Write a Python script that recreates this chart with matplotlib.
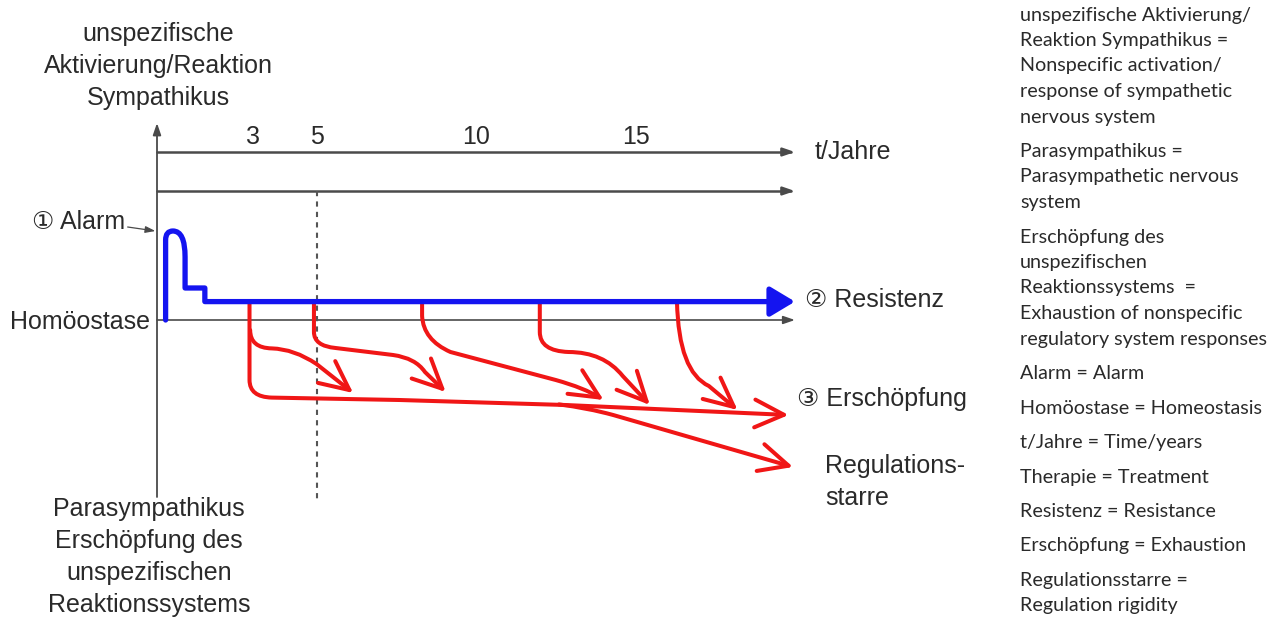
import matplotlib
matplotlib.use("Agg")
import matplotlib.pyplot as plt
from matplotlib.path import Path
from matplotlib.patches import FancyArrowPatch

# Zeitachse in Jahren, Niveau 0 = Homöostase
tick_years = [3, 5, 10, 15]
tick_labels = ["3", "5", "10", "15"]
t_end = 20.0
therapy_year = 5

level_t_axis = 8.4
level_second = 6.45
level_axis_top = 9.85
level_axis_bottom = -8.85
level_dash_bottom = -9.0

# Kurven: ("M"/"L", x, y) oder ("Q", cx, cy, x, y)
blue_curve = [("M", 0.27, 0.0), ("L", 0.27, 4.0), ("Q", 0.27, 4.45, 0.5, 4.45),
              ("Q", 0.88, 4.45, 0.88, 3.15), ("L", 0.88, 1.6), ("L", 1.5, 1.6),
              ("L", 1.5, 0.92), ("L", 20.0, 0.92)]

red_main = [("M", 2.9, 0.92), ("L", 2.9, -3.0), ("Q", 2.9, -3.85, 3.6, -3.88),
            ("L", 7.6, -4.0), ("L", 12.8, -4.25), ("L", 19.8, -4.75)]
red_rigid = [("M", 12.6, -4.22), ("Q", 13.5, -4.4, 14.3, -4.75), ("L", 19.94, -7.35)]
red_b1 = [("M", 2.92, -0.5), ("Q", 2.92, -1.4, 3.6, -1.42),
          ("Q", 4.3, -1.45, 5.0, -2.2), ("L", 6.15, -3.65)]
red_b2 = [("M", 4.92, 0.92), ("L", 4.92, -0.6), ("Q", 4.92, -1.3, 5.6, -1.4),
          ("L", 7.4, -1.75), ("Q", 8.1, -1.9, 8.4, -2.6), ("L", 9.05, -3.6)]
red_b3 = [("M", 8.31, 0.92), ("L", 8.31, 0.2), ("Q", 8.35, -1.0, 9.2, -1.6),
          ("L", 12.5, -3.0), ("Q", 13.4, -3.4, 14.0, -4.0)]
red_b4 = [("M", 12.0, 0.92), ("L", 12.0, -0.6), ("Q", 12.0, -1.55, 12.9, -1.6),
          ("Q", 14.0, -1.6, 14.6, -2.8), ("L", 15.45, -4.25)]
red_b5 = [("M", 16.3, 0.92), ("Q", 16.35, -2.6, 17.3, -3.3), ("L", 18.2, -4.5)]

alarm_text_pos = (-1.0, 4.9)
alarm_arrow = [("M", -0.92, 4.65), ("L", -0.05, 4.45)]

legend_paragraphs = [
    ["unspezifische Aktivierung/", "Reaktion Sympathikus =", "Nonspecific activation/",
     "response of sympathetic", "nervous system"],
    ["Parasympathikus =", "Parasympathetic nervous", "system"],
    ["Erschöpfung des", "unspezifischen", "Reaktionssystems  =",
     "Exhaustion of nonspecific", "regulatory system responses"],
    ["Alarm = Alarm"],
    ["Homöostase = Homeostasis"],
    ["t/Jahre = Time/years"],
    ["Therapie = Treatment"],
    ["Resistenz = Resistance"],
    ["Erschöpfung = Exhaustion"],
    ["Regulationsstarre =", "Regulation rigidity"],
]

plt.rcParams['font.family'] = ['Liberation Sans', 'DejaVu Sans']

W, H = 1269, 617
X0_PX, PX_PER_YEAR = 157, 31.9
Y0_PX, PX_PER_LEVEL = 320, 20.0

fig = plt.figure(figsize=(W / 100, H / 100), dpi=100)
ax = fig.add_axes([0, 0, 1, 1])
ax.set_xlim(-X0_PX / PX_PER_YEAR, (W - X0_PX) / PX_PER_YEAR)
ax.set_ylim((Y0_PX - H) / PX_PER_LEVEL, Y0_PX / PX_PER_LEVEL)
ax.axis("off")

AXIS_C = "#4a4a4a"
BLUE = "#1414f0"
RED = "#f01616"
TXT = "#2a2a2a"


def make_path(seg):
    verts, codes = [], []
    for s in seg:
        if s[0] == "M":
            verts.append(s[1:3]); codes.append(Path.MOVETO)
        elif s[0] == "L":
            verts.append(s[1:3]); codes.append(Path.LINETO)
        else:
            verts += [s[1:3], s[3:5]]; codes += [Path.CURVE3, Path.CURVE3]
    return Path(verts, codes)


def draw(seg, color, lw, style, scale=20, z=2):
    p = FancyArrowPatch(path=make_path(seg), arrowstyle=style, mutation_scale=scale,
                        color=color, lw=lw, zorder=z, capstyle="round", joinstyle="round")
    ax.add_patch(p)


# Achsen
thin_head = "-|>,head_length=0.35,head_width=0.12"
draw([("M", 0, level_axis_bottom), ("L", 0, level_axis_top)], AXIS_C, 1.3, thin_head, z=1)
draw([("M", 0, level_t_axis), ("L", t_end, level_t_axis)], AXIS_C, 1.8, thin_head, z=1)
draw([("M", 0, level_second), ("L", t_end, level_second)], AXIS_C, 1.8, thin_head, z=1)
draw([("M", 0, 0), ("L", t_end, 0)], AXIS_C, 1.2, thin_head, z=1)
ax.plot([therapy_year, therapy_year], [level_second, level_dash_bottom], color="#555555",
        lw=1.5, dashes=(2.5, 2.5), zorder=1)
draw(alarm_arrow, AXIS_C, 0.9, "-|>,head_length=0.3,head_width=0.1", z=1)

# Alarm / Resistenz
draw(blue_curve, BLUE, 3.8, "-|>,head_length=0.75,head_width=0.45", z=3)

# Erschöpfung
red_head = "->,head_length=1.05,head_width=0.5"
for seg in [red_main, red_rigid, red_b1, red_b2, red_b3, red_b4, red_b5]:
    draw(seg, RED, 2.9, red_head, z=2)

fs = 18
for yr, lab in zip(tick_years, tick_labels):
    ax.text(yr, 9.15, lab, ha="center", va="center", fontsize=fs, color=TXT)
ax.text(20.63, level_t_axis, "t/Jahre", ha="left", va="center", fontsize=fs, color=TXT)
ax.text(0.03, 12.7, "unspezifische\nAktivierung/Reaktion\nSympathikus", ha="center",
        va="center", fontsize=fs, color=TXT, linespacing=1.42)
ax.text(-0.25, -11.85, "Parasympathikus\nErschöpfung des\nunspezifischen\nReaktionssystems",
        ha="center", va="center", fontsize=fs, color=TXT, linespacing=1.42)
ax.text(*alarm_text_pos, "① Alarm", ha="right", va="center", fontsize=fs, color=TXT)
ax.text(-0.22, -0.1, "Homöostase", ha="right", va="center", fontsize=fs, color=TXT)
ax.text(20.3, 1.0, "② Resistenz", ha="left", va="center", fontsize=fs, color=TXT)
ax.text(20.06, -3.95, "③ Erschöpfung", ha="left", va="center", fontsize=fs, color=TXT)
ax.text(20.94, -8.1, "Regulations-\nstarre", ha="left", va="center", fontsize=fs,
        color=TXT, linespacing=1.38)

# Übersetzungen rechts
LINE_PX, GAP_PX = 25.5, 9
y_px = 15
for para in legend_paragraphs:
    for line in para:
        fig.text(1020 / W, 1 - y_px / H, line, ha="left", va="center", fontsize=14.2,
                 color=TXT, family=["Lato", "DejaVu Sans"])
        y_px += LINE_PX
    y_px += GAP_PX

fig.savefig("out.png", dpi=100)
